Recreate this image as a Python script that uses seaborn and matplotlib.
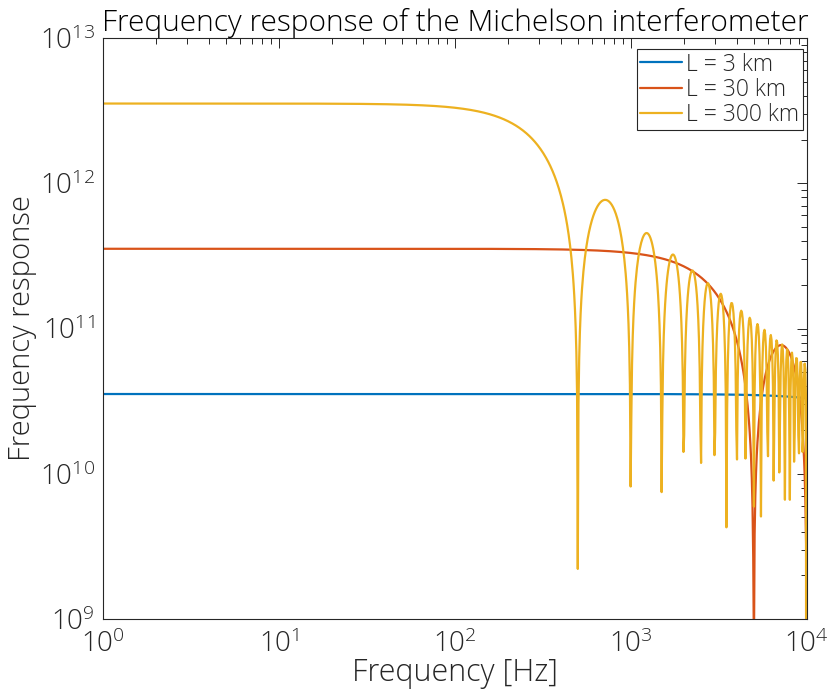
import numpy as np
import pandas as pd
import matplotlib
matplotlib.use("Agg")
import matplotlib.pyplot as plt
import seaborn as sns
from matplotlib.ticker import LogLocator, LogFormatterMathtext, NullFormatter

# ---- data ----
labels = ["L = 3 km", "L = 30 km", "L = 300 km"]
arm_lengths_m = [3e3, 30e3, 300e3]            # arm lengths
dc_levels = [3.54e10, 3.54e11, 3.54e12]        # low-frequency response level
colors = ["#0072BD", "#D95319", "#EDB120"]
c_light = 3e8                                   # first null at c/(2L)
freq_hz = np.logspace(0, 4, 1000)               # sampling grid of the plot

x_ticks = [1e0, 1e1, 1e2, 1e3, 1e4]
y_ticks = [1e9, 1e10, 1e11, 1e12, 1e13]

rows = []
for lab, L, h0 in zip(labels, arm_lengths_m, dc_levels):
    arg = 2 * np.pi * freq_hz * L / c_light
    resp = h0 * np.abs(np.sin(arg) / arg)
    rows.append(pd.DataFrame({"Frequency": freq_hz, "Response": resp, "Arm": lab}))
df = pd.concat(rows, ignore_index=True)

sns.set_theme(style="white")
plt.rcParams["font.family"] = ["Open Sans", "DejaVu Sans"]
plt.rcParams["font.weight"] = "light"
plt.rcParams["axes.titleweight"] = "light"
plt.rcParams["axes.labelweight"] = "light"
plt.rcParams["mathtext.default"] = "regular"

fig = plt.figure(figsize=(8.3, 6.89), dpi=100)
ax = fig.add_axes([0.124, 0.1016, 0.848, 0.8432])

sns.lineplot(data=df, x="Frequency", y="Response", hue="Arm", hue_order=labels,
             palette=colors, estimator=None, sort=False, linewidth=1.6, ax=ax)

ax.set_xscale("log")
ax.set_yscale("log")
ax.set_xlim(1, 1e4)
ax.set_ylim(1e9, 1e13)
ax.set_xticks(x_ticks)
ax.set_yticks(y_ticks)
ax.xaxis.set_major_formatter(LogFormatterMathtext())
ax.yaxis.set_major_formatter(LogFormatterMathtext())
ax.xaxis.set_minor_locator(LogLocator(base=10, subs=np.arange(2, 10), numticks=20))
ax.yaxis.set_minor_locator(LogLocator(base=10, subs=np.arange(2, 10), numticks=20))
ax.xaxis.set_minor_formatter(NullFormatter())
ax.yaxis.set_minor_formatter(NullFormatter())

edge = "#262626"
for s in ax.spines.values():
    s.set_color(edge)
    s.set_linewidth(0.8)
ax.tick_params(which="both", direction="in", top=True, right=True, colors=edge,
               labelcolor="#262626", labelsize=20, width=0.7)
ax.tick_params(which="major", length=7)
ax.tick_params(which="minor", length=4)
ax.tick_params(axis="x", which="major", pad=8)
ax.tick_params(axis="y", which="major", pad=6)

ax.set_xlabel("Frequency [Hz]", fontsize=22, color="#262626", labelpad=-1)
ax.set_ylabel("Frequency response", fontsize=21, color="#262626", labelpad=2)
ax.set_title("Frequency response of the Michelson interferometer", fontsize=21.5,
             color="#000000", pad=5, x=0.5)

handles, labs = ax.get_legend_handles_labels()
leg = ax.legend(handles, labs, loc="upper right", bbox_to_anchor=(0.9943, 0.981),
                borderaxespad=0, fontsize=16.5, handlelength=1.8, handletextpad=0.2,
                borderpad=0.15, labelspacing=0.05, frameon=True, fancybox=False,
                edgecolor=edge, framealpha=1)
leg.get_frame().set_linewidth(0.8)

fig.savefig("out.png", dpi=100)
